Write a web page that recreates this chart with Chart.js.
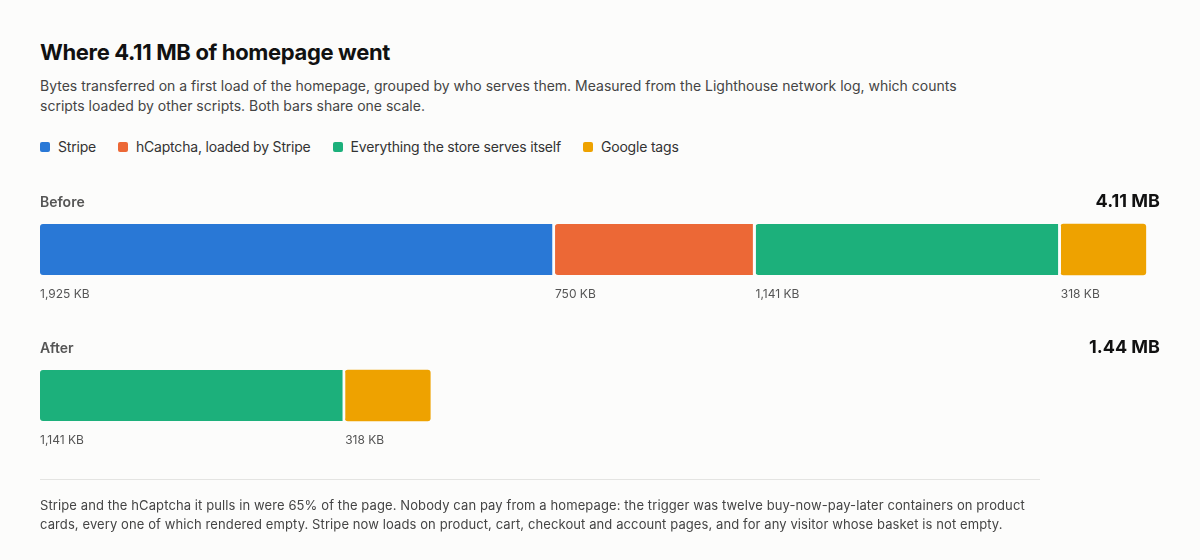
<!DOCTYPE html>
<html>
<head>
<meta charset="utf-8">
<script src="https://cdn.jsdelivr.net/npm/chart.js@4.4.1/dist/chart.umd.min.js"></script>
<style>
  html, body { margin: 0; padding: 0; background: #fcfcfb; }
  body { width: 1200px; height: 560px; position: relative; overflow: hidden; font-family: Inter, "Noto Sans", sans-serif; }
  #c { position: absolute; left: 0; top: 0; }
  .title { position: absolute; left: 40px; top: 38px; font-size: 22px; font-weight: 700; color: #111; line-height: 28px; letter-spacing: -0.35px; }
  .sub { position: absolute; left: 40px; top: 76px; width: 960px; font-size: 14px; color: #444; line-height: 20px; }
  .legend { position: absolute; left: 40px; top: 137px; display: flex; font-size: 14px; color: #333; line-height: 20px; letter-spacing: -0.2px; }
  .legend .item { display: flex; align-items: center; margin-right: 22px; }
  .legend .sw { width: 10px; height: 10px; border-radius: 2px; margin-right: 8px; }
  .rule { position: absolute; left: 40px; top: 479px; width: 1000px; height: 1px; background: #e4e4e2; }
  .foot { position: absolute; left: 40px; top: 496px; width: 1000px; font-size: 13px; color: #444; line-height: 19px; letter-spacing: 0.1px; }
</style>
</head>
<body>
<div class="title">Where 4.11 MB of homepage went</div>
<div class="sub">Bytes transferred on a first load of the homepage, grouped by who serves them. Measured from the Lighthouse network log, which counts scripts loaded by other scripts. Both bars share one scale.</div>
<div class="legend" id="legend"></div>
<canvas id="c" width="1200" height="560"></canvas>
<div class="rule"></div>
<div class="foot">Stripe and the hCaptcha it pulls in were 65% of the page. Nobody can pay from a homepage: the trigger was twelve buy-now-pay-later containers on product cards, every one of which rendered empty. Stripe now loads on product, cart, checkout and account pages, and for any visitor whose basket is not empty.</div>
<script>
const categories = ['Before', 'After'];
const seriesNames = ['Stripe', 'hCaptcha, loaded by Stripe', 'Everything the store serves itself', 'Google tags'];
const stripeKB = [1925, null];
const hcaptchaKB = [750, null];
const storeKB = [1141, 1141];
const googleKB = [318, 318];
const totalLabels = ['4.11 MB', '1.44 MB'];
const seriesColors = ['#2978d6', '#ec6836', '#1cb07b', '#eea200'];

const bg = '#fcfcfb';
const legendEl = document.getElementById('legend');
seriesNames.forEach((n, i) => {
  const it = document.createElement('div');
  it.className = 'item';
  it.innerHTML = '<span class="sw" style="background:' + seriesColors[i] + '"></span><span>' + n + '</span>';
  legendEl.appendChild(it);
});

const seriesData = [stripeKB, hcaptchaKB, storeKB, googleKB];
const r = 3;
function isLast(di, idx) {
  for (let k = di + 1; k < seriesData.length; k++) {
    if (seriesData[k][idx] != null) return false;
  }
  return true;
}
const datasets = seriesData.map((d, i) => ({
  label: seriesNames[i],
  data: d,
  backgroundColor: seriesColors[i],
  borderColor: bg,
  borderWidth: (ctx) => ({ left: 0, top: 0, bottom: 0, right: isLast(i, ctx.dataIndex) ? 0 : 3 }),
  borderSkipped: false,
  borderRadius: { topLeft: r, topRight: r, bottomLeft: r, bottomRight: r },
  barThickness: 51
}));

const labelPlugin = {
  id: 'labels',
  afterDatasetsDraw(chart) {
    const ctx = chart.ctx;
    ctx.save();
    ctx.textBaseline = 'middle';
    chart.data.datasets.forEach((ds, di) => {
      const meta = chart.getDatasetMeta(di);
      meta.data.forEach((el, i) => {
        const v = ds.data[i];
        if (v == null) return;
        const x0 = Math.min(el.x, el.base);
        ctx.font = '12px Inter, "Noto Sans", sans-serif';
        ctx.fillStyle = '#555';
        ctx.textAlign = 'left';
        ctx.fillText(v.toLocaleString('en-US') + ' KB', x0, el.y + 44.5);
      });
    });
    const ys = chart.scales.y;
    categories.forEach((c, i) => {
      const y = ys.getPixelForValue(i);
      ctx.font = '600 14px Inter, "Noto Sans", sans-serif';
      ctx.fillStyle = '#555';
      ctx.textAlign = 'left';
      ctx.fillText(c, 40, y - 46.5);
      ctx.font = '700 18px Inter, "Noto Sans", sans-serif';
      ctx.fillStyle = '#111';
      ctx.textAlign = 'right';
      ctx.fillText(totalLabels[i], 1160, y - 47.5);
    });
    ctx.restore();
  }
};

new Chart(document.getElementById('c'), {
  type: 'bar',
  data: { labels: categories, datasets },
  options: {
    indexAxis: 'y',
    responsive: false,
    animation: false,
    layout: { padding: { left: 40, right: 40, top: 176.5, bottom: 91.5 } },
    plugins: { legend: { display: false }, tooltip: { enabled: false } },
    scales: {
      x: { stacked: true, display: false, min: 0, max: 4187 },
      y: { stacked: true, display: false }
    }
  },
  plugins: [labelPlugin]
});
</script>
</body>
</html>
